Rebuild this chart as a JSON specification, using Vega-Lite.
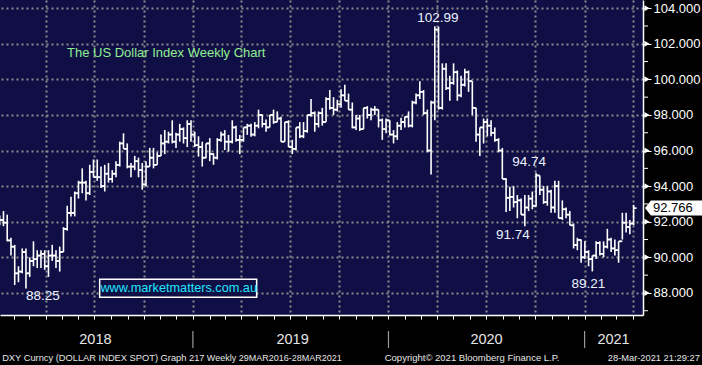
{
  "$schema": "https://vega.github.io/schema/vega-lite/v6.json",
  "width": 643,
  "height": 315,
  "autosize": {"type": "none"},
  "padding": {"left": 0, "top": 0, "right": 59, "bottom": 50},
  "background": "#000000",
  "config": {
    "view": {"fill": "#0f0f46", "stroke": null},
    "font": "Liberation Sans"
  },
  "datasets": {
    "ohlc": [
      {"d":"2017-12-29","o":92.3,"h":92.35,"l":91.8,"c":92.1},
      {"d":"2018-01-05","o":92.1,"h":92.6,"l":91.75,"c":91.95},
      {"d":"2018-01-12","o":91.95,"h":92.4,"l":90.9,"c":90.95},
      {"d":"2018-01-19","o":90.95,"h":91.1,"l":90.1,"c":90.6},
      {"d":"2018-01-26","o":90.6,"h":90.7,"l":88.45,"c":89.1},
      {"d":"2018-02-02","o":89.1,"h":89.5,"l":88.6,"c":89.2},
      {"d":"2018-02-09","o":89.2,"h":90.5,"l":89.1,"c":90.3},
      {"d":"2018-02-16","o":90.3,"h":90.5,"l":88.25,"c":89.1},
      {"d":"2018-02-23","o":89.1,"h":90.0,"l":88.9,"c":89.8},
      {"d":"2018-03-02","o":89.8,"h":90.9,"l":89.5,"c":89.9},
      {"d":"2018-03-09","o":89.9,"h":90.4,"l":89.4,"c":90.1},
      {"d":"2018-03-16","o":90.1,"h":90.4,"l":89.4,"c":90.2},
      {"d":"2018-03-23","o":90.2,"h":90.4,"l":89.3,"c":89.5},
      {"d":"2018-03-30","o":89.5,"h":90.4,"l":88.9,"c":90.1},
      {"d":"2018-04-06","o":90.1,"h":90.7,"l":89.8,"c":90.1},
      {"d":"2018-04-13","o":90.1,"h":90.4,"l":89.4,"c":89.8},
      {"d":"2018-04-20","o":89.8,"h":90.6,"l":89.2,"c":90.3},
      {"d":"2018-04-27","o":90.3,"h":91.7,"l":90.3,"c":91.6},
      {"d":"2018-05-04","o":91.6,"h":92.9,"l":91.5,"c":92.5},
      {"d":"2018-05-11","o":92.5,"h":93.4,"l":92.3,"c":92.5},
      {"d":"2018-05-18","o":92.5,"h":93.7,"l":92.3,"c":93.6},
      {"d":"2018-05-25","o":93.6,"h":94.3,"l":93.3,"c":94.2},
      {"d":"2018-06-01","o":94.2,"h":95.0,"l":93.6,"c":94.2},
      {"d":"2018-06-08","o":94.2,"h":94.3,"l":93.2,"c":93.6},
      {"d":"2018-06-15","o":93.6,"h":95.2,"l":93.5,"c":94.8},
      {"d":"2018-06-22","o":94.8,"h":95.5,"l":94.5,"c":94.5},
      {"d":"2018-06-29","o":94.5,"h":95.5,"l":94.3,"c":94.5},
      {"d":"2018-07-06","o":94.5,"h":95.1,"l":93.9,"c":94.0},
      {"d":"2018-07-13","o":94.0,"h":95.2,"l":93.7,"c":94.7},
      {"d":"2018-07-20","o":94.7,"h":95.3,"l":94.2,"c":94.4},
      {"d":"2018-07-27","o":94.4,"h":94.9,"l":94.2,"c":94.7},
      {"d":"2018-08-03","o":94.7,"h":95.4,"l":94.5,"c":95.2},
      {"d":"2018-08-10","o":95.2,"h":96.5,"l":95.1,"c":96.4},
      {"d":"2018-08-17","o":96.4,"h":96.97,"l":96.1,"c":96.1},
      {"d":"2018-08-24","o":96.1,"h":96.4,"l":95.0,"c":95.1},
      {"d":"2018-08-31","o":95.1,"h":95.3,"l":94.5,"c":95.1},
      {"d":"2018-09-07","o":95.1,"h":95.7,"l":94.9,"c":95.4},
      {"d":"2018-09-14","o":95.4,"h":95.6,"l":94.5,"c":94.9},
      {"d":"2018-09-21","o":94.9,"h":95.3,"l":93.8,"c":94.1},
      {"d":"2018-09-28","o":94.1,"h":95.4,"l":94.0,"c":95.1},
      {"d":"2018-10-05","o":95.1,"h":96.15,"l":95.1,"c":95.6},
      {"d":"2018-10-12","o":95.6,"h":96.15,"l":95.0,"c":95.2},
      {"d":"2018-10-19","o":95.2,"h":95.9,"l":95.2,"c":95.7},
      {"d":"2018-10-26","o":95.7,"h":96.9,"l":95.7,"c":96.4},
      {"d":"2018-11-02","o":96.4,"h":97.15,"l":95.8,"c":96.5},
      {"d":"2018-11-09","o":96.5,"h":97.06,"l":96.4,"c":96.9},
      {"d":"2018-11-16","o":96.9,"h":97.7,"l":96.4,"c":96.5},
      {"d":"2018-11-23","o":96.5,"h":97.0,"l":96.15,"c":96.9},
      {"d":"2018-11-30","o":96.9,"h":97.5,"l":96.5,"c":97.2},
      {"d":"2018-12-07","o":97.2,"h":97.3,"l":96.4,"c":96.7},
      {"d":"2018-12-14","o":96.7,"h":97.7,"l":96.2,"c":97.5},
      {"d":"2018-12-21","o":97.5,"h":97.7,"l":96.5,"c":96.9},
      {"d":"2018-12-28","o":96.9,"h":97.06,"l":96.2,"c":96.3},
      {"d":"2019-01-04","o":96.3,"h":96.8,"l":95.66,"c":96.2},
      {"d":"2019-01-11","o":96.2,"h":96.5,"l":95.1,"c":95.6},
      {"d":"2019-01-18","o":95.6,"h":96.4,"l":95.57,"c":96.4},
      {"d":"2019-01-25","o":96.4,"h":96.7,"l":95.4,"c":95.8},
      {"d":"2019-02-01","o":95.8,"h":95.85,"l":95.2,"c":95.6},
      {"d":"2019-02-08","o":95.6,"h":96.7,"l":95.5,"c":96.6},
      {"d":"2019-02-15","o":96.6,"h":97.06,"l":96.5,"c":96.9},
      {"d":"2019-02-22","o":96.9,"h":97.15,"l":96.03,"c":96.5},
      {"d":"2019-03-01","o":96.5,"h":96.88,"l":95.94,"c":96.5},
      {"d":"2019-03-08","o":96.5,"h":97.7,"l":96.4,"c":97.3},
      {"d":"2019-03-15","o":97.3,"h":97.4,"l":96.5,"c":96.6},
      {"d":"2019-03-22","o":96.6,"h":96.88,"l":95.8,"c":96.6},
      {"d":"2019-03-29","o":96.6,"h":97.3,"l":96.5,"c":97.3},
      {"d":"2019-04-05","o":97.3,"h":97.5,"l":96.88,"c":97.4},
      {"d":"2019-04-12","o":97.4,"h":97.5,"l":96.78,"c":96.9},
      {"d":"2019-04-19","o":96.9,"h":97.6,"l":96.8,"c":97.4},
      {"d":"2019-04-26","o":97.4,"h":98.3,"l":97.25,"c":98.0},
      {"d":"2019-05-03","o":98.0,"h":98.02,"l":97.3,"c":97.5},
      {"d":"2019-05-10","o":97.5,"h":97.74,"l":97.06,"c":97.3},
      {"d":"2019-05-17","o":97.3,"h":98.0,"l":97.3,"c":98.0},
      {"d":"2019-05-24","o":98.0,"h":98.3,"l":97.5,"c":97.6},
      {"d":"2019-05-31","o":97.6,"h":98.2,"l":97.6,"c":97.8},
      {"d":"2019-06-07","o":97.8,"h":97.9,"l":96.5,"c":96.5},
      {"d":"2019-06-14","o":96.5,"h":97.6,"l":96.5,"c":97.6},
      {"d":"2019-06-21","o":97.6,"h":97.7,"l":96.2,"c":96.2},
      {"d":"2019-06-28","o":96.2,"h":96.6,"l":95.8,"c":96.1},
      {"d":"2019-07-05","o":96.1,"h":97.3,"l":96.0,"c":97.3},
      {"d":"2019-07-12","o":97.3,"h":97.6,"l":96.7,"c":96.8},
      {"d":"2019-07-19","o":96.8,"h":97.6,"l":96.7,"c":97.1},
      {"d":"2019-07-26","o":97.1,"h":98.0,"l":97.0,"c":98.0},
      {"d":"2019-08-02","o":98.0,"h":98.9,"l":97.9,"c":98.1},
      {"d":"2019-08-09","o":98.1,"h":98.2,"l":97.06,"c":97.5},
      {"d":"2019-08-16","o":97.5,"h":98.2,"l":97.3,"c":98.1},
      {"d":"2019-08-23","o":98.1,"h":98.4,"l":97.4,"c":97.6},
      {"d":"2019-08-30","o":97.6,"h":99.0,"l":97.6,"c":98.9},
      {"d":"2019-09-06","o":98.9,"h":99.4,"l":98.3,"c":98.4},
      {"d":"2019-09-13","o":98.4,"h":99.0,"l":98.0,"c":98.3},
      {"d":"2019-09-20","o":98.3,"h":98.85,"l":98.2,"c":98.6},
      {"d":"2019-09-27","o":98.6,"h":99.45,"l":98.4,"c":99.1},
      {"d":"2019-10-04","o":99.1,"h":99.7,"l":98.8,"c":98.8},
      {"d":"2019-10-11","o":98.8,"h":99.2,"l":98.3,"c":98.3},
      {"d":"2019-10-18","o":98.3,"h":98.7,"l":97.25,"c":97.3},
      {"d":"2019-10-25","o":97.3,"h":98.0,"l":97.15,"c":97.8},
      {"d":"2019-11-01","o":97.8,"h":98.0,"l":97.1,"c":97.2},
      {"d":"2019-11-08","o":97.2,"h":98.4,"l":97.2,"c":98.4},
      {"d":"2019-11-15","o":98.4,"h":98.5,"l":97.8,"c":98.0},
      {"d":"2019-11-22","o":98.0,"h":98.4,"l":97.7,"c":98.3},
      {"d":"2019-11-29","o":98.3,"h":98.5,"l":98.0,"c":98.3},
      {"d":"2019-12-06","o":98.3,"h":98.3,"l":97.3,"c":97.7},
      {"d":"2019-12-13","o":97.7,"h":97.8,"l":96.6,"c":97.2},
      {"d":"2019-12-20","o":97.2,"h":97.8,"l":96.97,"c":97.7},
      {"d":"2019-12-27","o":97.7,"h":97.7,"l":96.85,"c":96.9},
      {"d":"2020-01-03","o":96.9,"h":97.15,"l":96.4,"c":96.8},
      {"d":"2020-01-10","o":96.8,"h":97.6,"l":96.6,"c":97.4},
      {"d":"2020-01-17","o":97.4,"h":97.85,"l":97.15,"c":97.6},
      {"d":"2020-01-24","o":97.6,"h":97.9,"l":97.3,"c":97.9},
      {"d":"2020-01-31","o":97.9,"h":98.2,"l":97.3,"c":97.4},
      {"d":"2020-02-07","o":97.4,"h":98.8,"l":97.3,"c":98.7},
      {"d":"2020-02-14","o":98.7,"h":99.2,"l":98.6,"c":99.1},
      {"d":"2020-02-21","o":99.1,"h":99.9,"l":98.9,"c":99.3},
      {"d":"2020-02-28","o":99.3,"h":99.4,"l":98.0,"c":98.1},
      {"d":"2020-03-06","o":98.1,"h":98.3,"l":95.9,"c":96.0},
      {"d":"2020-03-13","o":96.0,"h":98.8,"l":94.65,"c":98.7},
      {"d":"2020-03-20","o":98.7,"h":102.99,"l":97.7,"c":102.8},
      {"d":"2020-03-27","o":102.8,"h":102.96,"l":98.3,"c":98.4},
      {"d":"2020-04-03","o":98.4,"h":100.9,"l":98.3,"c":100.6},
      {"d":"2020-04-10","o":100.6,"h":100.9,"l":99.4,"c":99.5},
      {"d":"2020-04-17","o":99.5,"h":100.2,"l":98.8,"c":99.8},
      {"d":"2020-04-24","o":99.8,"h":100.9,"l":99.7,"c":100.4},
      {"d":"2020-05-01","o":100.4,"h":100.5,"l":98.8,"c":99.1},
      {"d":"2020-05-08","o":99.1,"h":100.2,"l":99.0,"c":99.7},
      {"d":"2020-05-15","o":99.7,"h":100.6,"l":99.6,"c":100.4},
      {"d":"2020-05-22","o":100.4,"h":100.5,"l":99.3,"c":99.9},
      {"d":"2020-05-29","o":99.9,"h":99.9,"l":98.0,"c":98.4},
      {"d":"2020-06-05","o":98.4,"h":98.4,"l":96.5,"c":96.9},
      {"d":"2020-06-12","o":96.9,"h":97.3,"l":95.7,"c":97.3},
      {"d":"2020-06-19","o":97.3,"h":97.8,"l":96.4,"c":97.6},
      {"d":"2020-06-26","o":97.6,"h":97.8,"l":96.8,"c":97.4},
      {"d":"2020-07-03","o":97.4,"h":97.7,"l":96.8,"c":97.0},
      {"d":"2020-07-10","o":97.0,"h":97.3,"l":96.5,"c":96.6},
      {"d":"2020-07-17","o":96.6,"h":96.7,"l":95.9,"c":96.0},
      {"d":"2020-07-24","o":96.0,"h":96.15,"l":94.4,"c":94.4},
      {"d":"2020-07-31","o":94.4,"h":94.45,"l":92.55,"c":93.35},
      {"d":"2020-08-07","o":93.35,"h":93.97,"l":92.6,"c":93.4},
      {"d":"2020-08-14","o":93.4,"h":94.0,"l":92.8,"c":93.1},
      {"d":"2020-08-21","o":93.1,"h":93.5,"l":92.2,"c":93.2},
      {"d":"2020-08-28","o":93.2,"h":93.3,"l":92.4,"c":92.4},
      {"d":"2020-09-04","o":92.4,"h":93.5,"l":91.74,"c":92.8},
      {"d":"2020-09-11","o":92.8,"h":93.5,"l":92.6,"c":93.3},
      {"d":"2020-09-18","o":93.3,"h":93.7,"l":92.7,"c":92.9},
      {"d":"2020-09-25","o":92.9,"h":94.74,"l":92.85,"c":94.6},
      {"d":"2020-10-02","o":94.6,"h":94.6,"l":93.5,"c":93.8},
      {"d":"2020-10-09","o":93.8,"h":94.0,"l":93.0,"c":93.1},
      {"d":"2020-10-16","o":93.1,"h":94.0,"l":92.9,"c":93.7},
      {"d":"2020-10-23","o":93.7,"h":93.8,"l":92.5,"c":92.8},
      {"d":"2020-10-30","o":92.8,"h":94.3,"l":92.5,"c":94.0},
      {"d":"2020-11-06","o":94.0,"h":94.3,"l":92.2,"c":92.2},
      {"d":"2020-11-13","o":92.2,"h":93.2,"l":92.1,"c":92.7},
      {"d":"2020-11-20","o":92.7,"h":92.8,"l":92.2,"c":92.4},
      {"d":"2020-11-27","o":92.4,"h":92.6,"l":91.8,"c":91.8},
      {"d":"2020-12-04","o":91.8,"h":91.9,"l":90.5,"c":90.7},
      {"d":"2020-12-11","o":90.7,"h":91.1,"l":90.4,"c":90.98},
      {"d":"2020-12-18","o":90.98,"h":91.0,"l":89.7,"c":90.0},
      {"d":"2020-12-25","o":90.0,"h":90.9,"l":89.9,"c":90.3},
      {"d":"2021-01-01","o":90.3,"h":90.4,"l":89.5,"c":89.9},
      {"d":"2021-01-08","o":89.9,"h":90.1,"l":89.21,"c":90.1},
      {"d":"2021-01-15","o":90.1,"h":90.9,"l":89.9,"c":90.8},
      {"d":"2021-01-22","o":90.8,"h":90.9,"l":90.1,"c":90.2},
      {"d":"2021-01-29","o":90.2,"h":90.9,"l":90.0,"c":90.6},
      {"d":"2021-02-05","o":90.6,"h":91.6,"l":90.5,"c":91.0},
      {"d":"2021-02-12","o":91.0,"h":91.1,"l":90.3,"c":90.5},
      {"d":"2021-02-19","o":90.5,"h":91.0,"l":90.1,"c":90.4},
      {"d":"2021-02-26","o":90.4,"h":90.9,"l":89.7,"c":90.9},
      {"d":"2021-03-05","o":90.9,"h":92.5,"l":91.0,"c":91.95},
      {"d":"2021-03-12","o":91.95,"h":92.5,"l":91.4,"c":91.7},
      {"d":"2021-03-19","o":91.7,"h":92.1,"l":91.3,"c":91.9},
      {"d":"2021-03-26","o":91.9,"h":92.95,"l":91.8,"c":92.766}
    ]
  },
  "layer": [
    {
      "data": {"name": "ohlc"},
      "mark": {"type": "rule", "color": "#ffffff", "strokeWidth": 1.6, "xOffset": 4},
      "encoding": {
        "x": {
          "field": "d", "type": "temporal",
          "scale": {"type": "utc", "domain": [{"year": 2018, "month": 1, "date": 6, "utc": true}, {"year": 2021, "month": 4, "date": 20, "utc": true}]},
          "axis": {
            "orient": "bottom", "title": null, "labels": false,
            "tickCount": {"interval": "month", "step": 1},
            "tickColor": "#ffffff", "tickSize": 4, "tickWidth": 1,
            "domainColor": "#ffffff", "domainWidth": 1.5,
            "grid": true, "gridColor": "#8c8c8c", "gridDash": [2, 3], "gridWidth": 2,
            "gridOpacity": {"condition": {"test": "utcmonth(datum.value) % 3 == 0", "value": 1}, "value": 0}
          }
        },
        "y": {
          "field": "l", "type": "quantitative",
          "scale": {"domain": [86.76, 104.46], "nice": false, "zero": false},
          "axis": {
            "orient": "right", "title": null,
            "values": [88, 90, 92, 94, 96, 98, 100, 102, 104],
            "tickCount": 30,
            "format": ".3f",
            "labelOverlap": false, "labelColor": "#ffffff", "labelFontSize": 13, "labelFont": "Liberation Sans",
            "labelPadding": 2, "labelBound": false, "labelFlush": false,
            "tickColor": "#ffffff", "tickSize": 8, "tickWidth": 1,
            "domainColor": "#ffffff", "domainWidth": 1.5,
            "grid": true, "gridColor": "#8c8c8c", "gridDash": [2, 3], "gridWidth": 2, "gridOpacity": 1
          }
        },
        "y2": {"field": "h"}
      }
    },
    {
      "data": {"name": "ohlc"},
      "mark": {"type": "rule", "color": "#ffffff", "strokeWidth": 1.6, "xOffset": 1, "x2Offset": 4},
      "encoding": {
        "x": {"field": "d", "type": "temporal"},
        "x2": {"field": "d"},
        "y": {"field": "o", "type": "quantitative"}
      }
    },
    {
      "data": {"name": "ohlc"},
      "mark": {"type": "rule", "color": "#ffffff", "strokeWidth": 1.6, "xOffset": 4, "x2Offset": 7},
      "encoding": {
        "x": {"field": "d", "type": "temporal"},
        "x2": {"field": "d"},
        "y": {"field": "c", "type": "quantitative"}
      }
    },
    {
      "data": {"values": [{"v": 88}, {"v": 90}, {"v": 92}, {"v": 94}, {"v": 96}, {"v": 98}, {"v": 100}, {"v": 102}, {"v": 104}]},
      "mark": {"type": "point", "shape": "triangle-right", "filled": true, "color": "#ffffff", "opacity": 1, "size": 36, "xOffset": 4},
      "encoding": {
        "x": {"datum": {"year": 2021, "month": 4, "date": 20, "utc": true}, "type": "temporal"},
        "y": {"field": "v", "type": "quantitative"}
      }
    },
    {
      "data": {"values": [{"v": 87}, {"v": 89}, {"v": 91}, {"v": 93}, {"v": 95}, {"v": 97}, {"v": 99}, {"v": 101}, {"v": 103}]},
      "mark": {"type": "point", "shape": "stroke", "filled": false, "stroke": "#ffffff", "strokeWidth": 1, "opacity": 1, "size": 25, "xOffset": 2.5},
      "encoding": {
        "x": {"datum": {"year": 2021, "month": 4, "date": 20, "utc": true}, "type": "temporal"},
        "y": {"field": "v", "type": "quantitative"}
      }
    },
    {
      "data": {"values": [{}]},
      "mark": {"type": "text", "text": "The US Dollar Index Weekly Chart", "align": "left", "baseline": "middle", "fontSize": 13, "font": "Liberation Sans", "color": "#90ee90"},
      "encoding": {
        "x": {"datum": {"year": 2018, "month": 5, "date": 11, "utc": true}, "type": "temporal"},
        "y": {"datum": 101.48, "type": "quantitative"}
      }
    },
    {
      "data": {"values": [{}]},
      "mark": {"type": "rect", "fill": "#0f0f46", "stroke": "#ffffff", "strokeWidth": 1.5},
      "encoding": {
        "x": {"datum": {"year": 2018, "month": 7, "date": 11, "utc": true}, "type": "temporal"},
        "x2": {"datum": {"year": 2019, "month": 4, "date": 30, "utc": true}},
        "y": {"datum": 88.77, "type": "quantitative"},
        "y2": {"datum": 87.76}
      }
    },
    {
      "data": {"values": [{}]},
      "mark": {"type": "text", "text": "www.marketmatters.com.au", "align": "center", "baseline": "middle", "fontSize": 12.7, "font": "Liberation Sans", "color": "#22e6ff"},
      "encoding": {
        "x": {"datum": {"year": 2018, "month": 12, "date": 5, "hours": 12, "utc": true}, "type": "temporal"},
        "y": {"datum": 88.26, "type": "quantitative"}
      }
    },
    {
      "data": {"values": [{"d": "2020-03-20", "v": 102.99, "t": "102.99"}]},
      "mark": {"type": "text", "align": "center", "baseline": "middle", "fontSize": 13.5, "font": "Liberation Sans", "color": "#eef2ff", "dx": 7, "dy": -8},
      "encoding": {"x": {"field": "d", "type": "temporal"}, "y": {"field": "v", "type": "quantitative"}, "text": {"field": "t"}}
    },
    {
      "data": {"values": [{"d": "2020-09-25", "v": 94.74, "t": "94.74"}]},
      "mark": {"type": "text", "align": "center", "baseline": "middle", "fontSize": 13.5, "font": "Liberation Sans", "color": "#eef2ff", "dx": -3, "dy": -10.7},
      "encoding": {"x": {"field": "d", "type": "temporal"}, "y": {"field": "v", "type": "quantitative"}, "text": {"field": "t"}}
    },
    {
      "data": {"values": [{"d": "2020-09-04", "v": 91.74, "t": "91.74"}]},
      "mark": {"type": "text", "align": "center", "baseline": "middle", "fontSize": 13.5, "font": "Liberation Sans", "color": "#eef2ff", "dx": -8, "dy": 8.6},
      "encoding": {"x": {"field": "d", "type": "temporal"}, "y": {"field": "v", "type": "quantitative"}, "text": {"field": "t"}}
    },
    {
      "data": {"values": [{"d": "2021-01-08", "v": 89.21, "t": "89.21"}]},
      "mark": {"type": "text", "align": "center", "baseline": "middle", "fontSize": 13.5, "font": "Liberation Sans", "color": "#eef2ff", "dx": 0, "dy": 12.6},
      "encoding": {"x": {"field": "d", "type": "temporal"}, "y": {"field": "v", "type": "quantitative"}, "text": {"field": "t"}}
    },
    {
      "data": {"values": [{"d": "2018-02-16", "v": 88.25, "t": "88.25"}]},
      "mark": {"type": "text", "align": "center", "baseline": "middle", "fontSize": 13.5, "font": "Liberation Sans", "color": "#eef2ff", "dx": 21, "dy": 7.5},
      "encoding": {"x": {"field": "d", "type": "temporal"}, "y": {"field": "v", "type": "quantitative"}, "text": {"field": "t"}}
    },
    {
      "data": {"values": [{"d": "2021-03-26", "v": 92.766, "t": "92.766"}]},
      "mark": {"type": "point", "shape": "M -1 0 L -0.8 -0.254 L 1 -0.254 L 1 0.254 L -0.8 0.254 Z", "size": 3481, "filled": true, "fill": "#ffffff", "opacity": 1, "strokeWidth": 0, "xOffset": 44.9},
      "encoding": {"x": {"field": "d", "type": "temporal"}, "y": {"field": "v", "type": "quantitative"}}
    },
    {
      "data": {"values": [{"d": "2021-03-26", "v": 92.766, "t": "92.766"}]},
      "mark": {"type": "text", "align": "left", "baseline": "middle", "fontSize": 13, "font": "Liberation Sans", "color": "#000000", "dx": 23.4},
      "encoding": {"x": {"field": "d", "type": "temporal"}, "y": {"field": "v", "type": "quantitative"}, "text": {"field": "t"}}
    },
    {
      "data": {"values": [{"d": "2019-01-01"}, {"d": "2020-01-01"}, {"d": "2021-01-01"}]},
      "mark": {"type": "rule", "color": "#9a9a9a", "strokeWidth": 1.2},
      "encoding": {
        "x": {"field": "d", "type": "temporal"},
        "y": {"datum": 85.86, "type": "quantitative"},
        "y2": {"datum": 84.91}
      }
    },
    {
      "data": {"values": [{"d": "2018-07-03", "t": "2018"}, {"d": "2019-07-06", "t": "2019"}, {"d": "2020-07-02", "t": "2020"}, {"d": "2021-02-24", "t": "2021"}]},
      "mark": {"type": "text", "align": "center", "baseline": "middle", "fontSize": 14.5, "font": "Liberation Sans", "color": "#e6e6e6"},
      "encoding": {
        "x": {"field": "d", "type": "temporal"},
        "y": {"datum": 85.36, "type": "quantitative"},
        "text": {"field": "t"}
      }
    },
    {
      "data": {"values": [{}]},
      "mark": {"type": "text", "text": "DXY Curncy (DOLLAR INDEX SPOT) Graph 217", "align": "left", "baseline": "middle", "fontSize": 9.3, "font": "Liberation Sans", "color": "#e6e6e6"},
      "encoding": {
        "x": {"datum": {"year": 2018, "month": 1, "date": 10, "utc": true}, "type": "temporal"},
        "y": {"datum": 84.37, "type": "quantitative"}
      }
    },
    {
      "data": {"values": [{}]},
      "mark": {"type": "text", "text": "Weekly 29MAR2016-28MAR2021", "align": "left", "baseline": "middle", "fontSize": 9, "font": "Liberation Sans", "color": "#e6e6e6"},
      "encoding": {
        "x": {"datum": {"year": 2019, "month": 1, "date": 27, "utc": true}, "type": "temporal"},
        "y": {"datum": 84.37, "type": "quantitative"}
      }
    },
    {
      "data": {"values": [{}]},
      "mark": {"type": "text", "text": "Copyright© 2021 Bloomberg Finance L.P.", "align": "left", "baseline": "middle", "fontSize": 9.5, "font": "Liberation Sans", "color": "#e6e6e6"},
      "encoding": {
        "x": {"datum": {"year": 2019, "month": 12, "date": 25, "utc": true}, "type": "temporal"},
        "y": {"datum": 84.37, "type": "quantitative"}
      }
    },
    {
      "data": {"values": [{}]},
      "mark": {"type": "text", "text": "28-Mar-2021 21:29:27", "align": "right", "baseline": "middle", "fontSize": 9.3, "font": "Liberation Sans", "color": "#e6e6e6"},
      "encoding": {
        "x": {"datum": {"year": 2021, "month": 8, "date": 4, "utc": true}, "type": "temporal"},
        "y": {"datum": 84.37, "type": "quantitative"}
      }
    }
  ]
}
